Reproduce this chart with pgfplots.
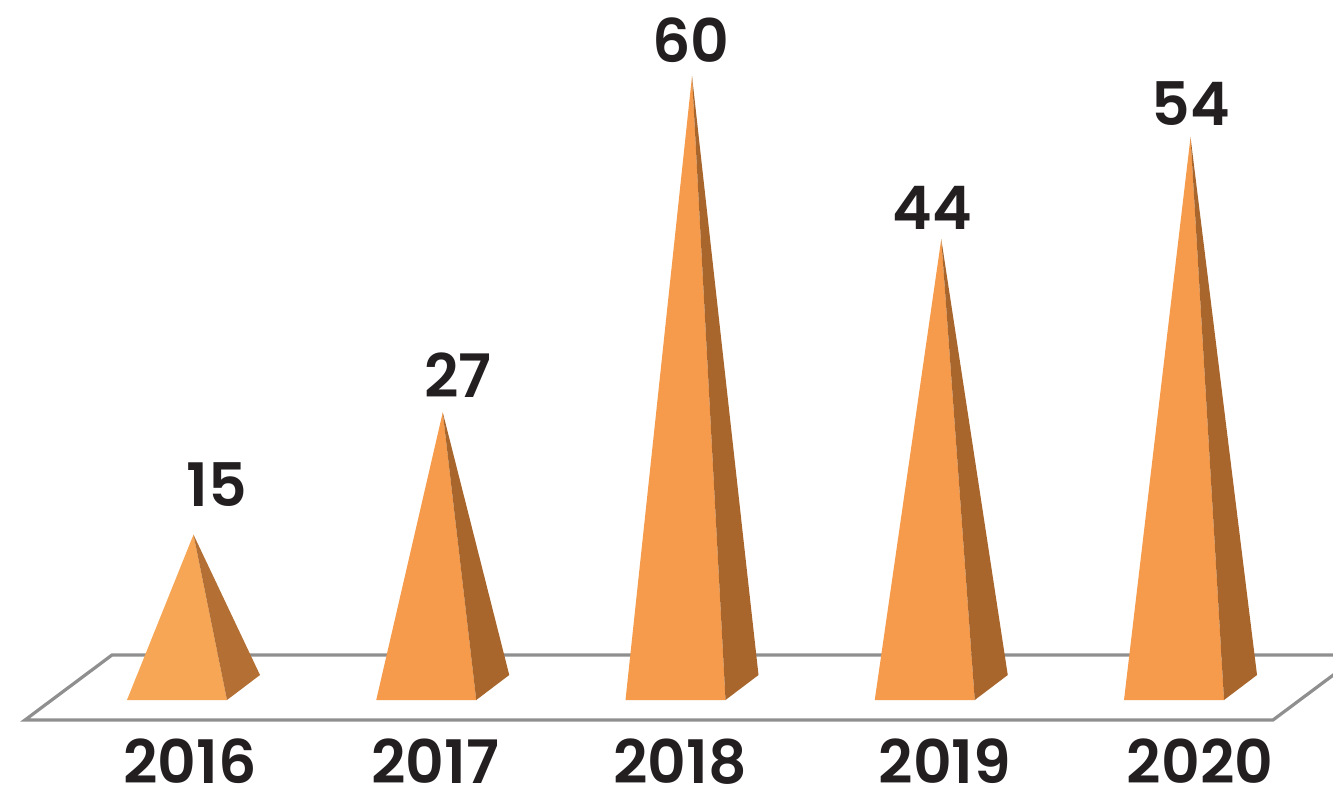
\documentclass[border=0pt]{standalone}
\usepackage{pgfplots}
\pgfplotsset{compat=1.18}
\usepackage{fontspec}
\setmainfont{Poppins}[BoldFont={Poppins SemiBold}]
\definecolor{frontc}{HTML}{F59B4B}
\definecolor{sidec}{HTML}{A8662C}
\definecolor{frontl}{HTML}{F6A655}
\definecolor{sidel}{HTML}{B47034}
\definecolor{floorc}{HTML}{8F8F8F}
\definecolor{txt}{HTML}{231F20}
\tikzset{lbl/.style={font=\fontsize{45}{45}\selectfont\bfseries, text=txt, inner sep=0pt}}
\begin{document}
\begin{tikzpicture}
\useasboundingbox (0,0) rectangle (999.75pt,591.75pt);
\begin{axis}[
  at={(0,0)}, anchor=south west,
  scale only axis, width=999.75pt, height=591.75pt,
  xmin=-0.7101, xmax=4.6379, ymin=-9.961, ymax=67.468,
  hide axis, clip mode=individual,
]
% floor
\addplot[draw=floorc, line width=2.4pt, fill=white, line join=miter] coordinates {(-0.6098,-3.189) (4.3972,-3.189) (4.7463,3.189) (-0.2608,3.189)} -- cycle;
% 2016 (value 15)
\addplot[draw=none, fill=frontl] coordinates {(-0.2006,-1.2267) (0.2006,-1.2267) (0.0662,15)} -- cycle;
\addplot[draw=none, fill=sidel] coordinates {(0.2006,-1.2267) (0.3330,1.2267) (0.0662,15)} -- cycle;
% 2017 (value 27)
\addplot[draw=none, fill=frontc] coordinates {(0.7994,-1.2267) (1.2006,-1.2267) (1.0662,27)} -- cycle;
\addplot[draw=none, fill=sidec] coordinates {(1.2006,-1.2267) (1.3330,1.2267) (1.0662,27)} -- cycle;
% 2018 (value 60)
\addplot[draw=none, fill=frontc] coordinates {(1.7994,-1.2267) (2.2006,-1.2267) (2.0662,60)} -- cycle;
\addplot[draw=none, fill=sidec] coordinates {(2.2006,-1.2267) (2.3330,1.2267) (2.0662,60)} -- cycle;
% 2019 (value 44)
\addplot[draw=none, fill=frontc] coordinates {(2.7994,-1.2267) (3.2006,-1.2267) (3.0662,44)} -- cycle;
\addplot[draw=none, fill=sidec] coordinates {(3.2006,-1.2267) (3.3330,1.2267) (3.0662,44)} -- cycle;
% 2020 (value 54)
\addplot[draw=none, fill=frontc] coordinates {(3.7994,-1.2267) (4.2006,-1.2267) (4.0662,54)} -- cycle;
\addplot[draw=none, fill=sidec] coordinates {(4.2006,-1.2267) (4.3330,1.2267) (4.0662,54)} -- cycle;
% value labels
\node[lbl] at (axis cs:0.1605,19.96) {15};
\node[lbl] at (axis cs:1.1274,30.67) {27};
\node[lbl] at (axis cs:2.0622,63.54) {60};
\node[lbl] at (axis cs:3.0291,47.06) {44};
\node[lbl] at (axis cs:4.0682,57.26) {54};
% year labels
\node[lbl] at (axis cs:0.0522,-7.25) {2016};
\node[lbl] at (axis cs:1.0351,-7.25) {2017};
\node[lbl] at (axis cs:2.0181,-7.25) {2018};
\node[lbl] at (axis cs:3.0812,-7.25) {2019};
\node[lbl] at (axis cs:4.1043,-7.25) {2020};
\end{axis}
\end{tikzpicture}
\end{document}
